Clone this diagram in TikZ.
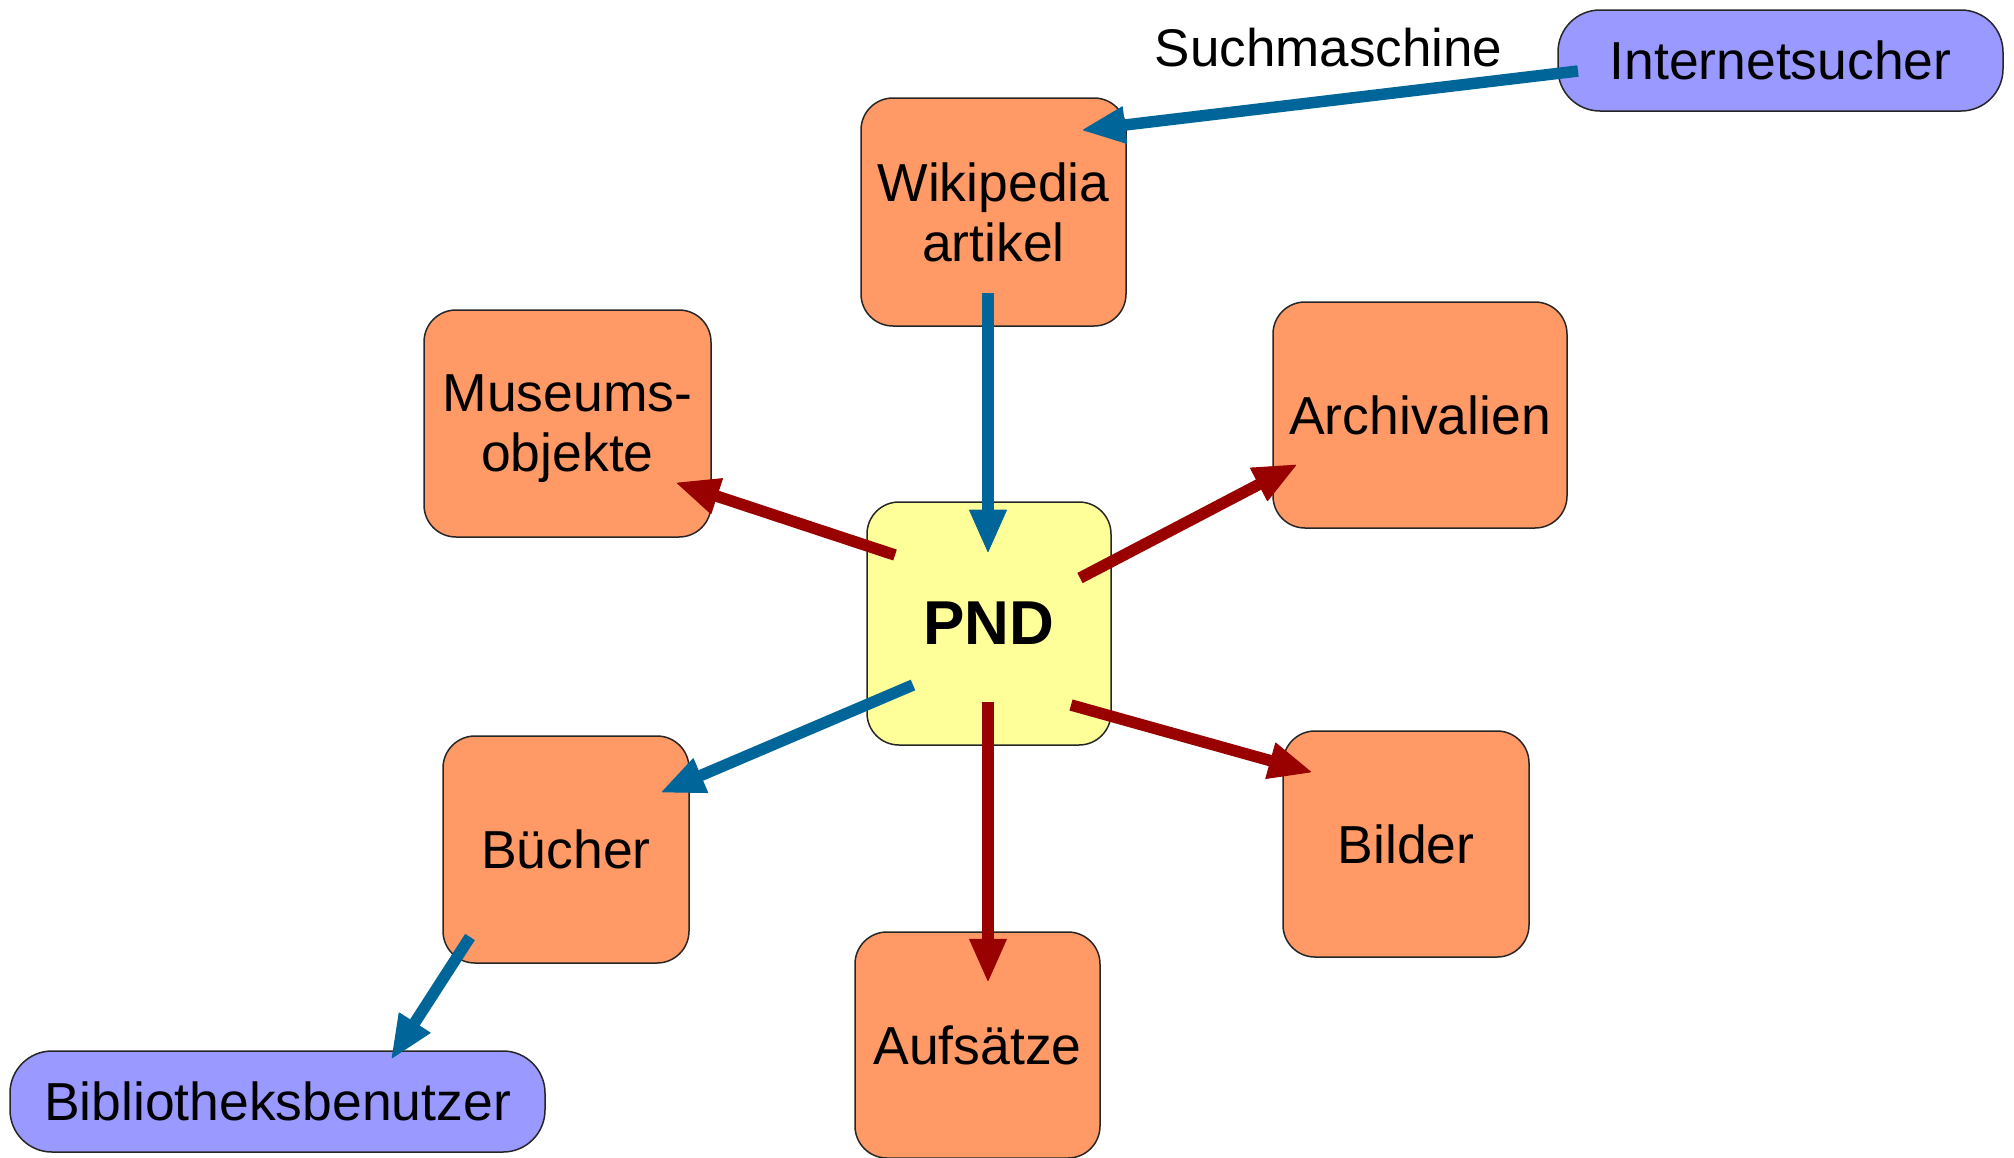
\documentclass[tikz,border=0pt]{standalone}
\usepackage{fontspec}
\setmainfont{Liberation Sans}
\usetikzlibrary{arrows.meta}
\definecolor{boxorange}{HTML}{FF9966}
\definecolor{pndyellow}{HTML}{FFFF99}
\definecolor{userblue}{HTML}{9999FF}
\definecolor{arrowblue}{HTML}{006699}
\definecolor{arrowred}{HTML}{990000}

\begin{document}
\begin{tikzpicture}[x=1pt,y=-1pt]

  \tikzset{
    box/.style 2 args={draw=black!85,line width=1.5pt,fill=boxorange,
      rounded corners=32pt,inner sep=0pt,align=center,
      minimum width=#1pt,minimum height=#2pt,
      font=\fontsize{53.5}{60}\selectfont},
    userbox/.style 2 args={box={#1}{#2},fill=userblue,rounded corners=42pt},
    bluearrow/.style={arrowblue,line width=11.5pt,
      -{Triangle[length=43pt,width=38pt,line width=1pt,round]}},
    redarrow/.style={bluearrow,arrowred},
  }
  \useasboundingbox (0,0) rectangle (2014,1157);
  %USERS
  \node[userbox={445}{101}] (inet) at (1780.5,60.5) {Internetsucher};
  \node[userbox={535}{101}] (biblio) at (277.5,1101.5) {Bibliotheksbenutzer};
  \node[anchor=base,font=\fontsize{53}{60}\selectfont] (such) at (1328.5,66) {Suchmaschine};
  %SOURCES
  \node[box={265}{228}] (wiki) at (993.5,212) {Wikipedia\\artikel};
  \node[box={287}{227},text depth=0pt] (museum) at (567.5,423.5) {Museums-\\objekte};
  \node[box={294}{226}] (archiv) at (1420,415) {Archivalien};
  \node[box={246}{227}] (buecher) at (566,849.5) {Bücher};
  \node[box={246}{226}] (bilder) at (1406,844) {Bilder};
  \node[box={245}{226}] (aufsaetze) at (977.5,1045) {Aufsätze};
  %PND
  \node[box={244}{243},fill=pndyellow,font=\fontsize{62}{70}\selectfont\bfseries] (pnd) at (989,623.5) {PND};
  %ARROWS
  \draw[bluearrow] ([shift={(-202.5,10.5)}]inet.center) -- ([shift={(89.5,-82)}]wiki.center);
  \draw[bluearrow] ([shift={(-5.5,81)}]wiki.center) -- ([shift={(-1,-71.5)}]pnd.center);
  \draw[redarrow] ([shift={(-94,-68.5)}]pnd.center) -- ([shift={(109.5,59.5)}]museum.center);
  \draw[redarrow] ([shift={(91,-45.5)}]pnd.center) -- ([shift={(-124,50)}]archiv.center);
  \draw[bluearrow] ([shift={(-76,61.5)}]pnd.center) -- ([shift={(96,-57.5)}]buecher.center);
  \draw[redarrow] ([shift={(-1,78.5)}]pnd.center) -- ([shift={(10.5,-64)}]aufsaetze.center);
  \draw[redarrow] ([shift={(82,81.5)}]pnd.center) -- ([shift={(-95,-72)}]bilder.center);
  \draw[bluearrow] ([shift={(-96,87.5)}]buecher.center) -- ([shift={(114.5,-43.5)}]biblio.center);
\end{tikzpicture}
\end{document}
